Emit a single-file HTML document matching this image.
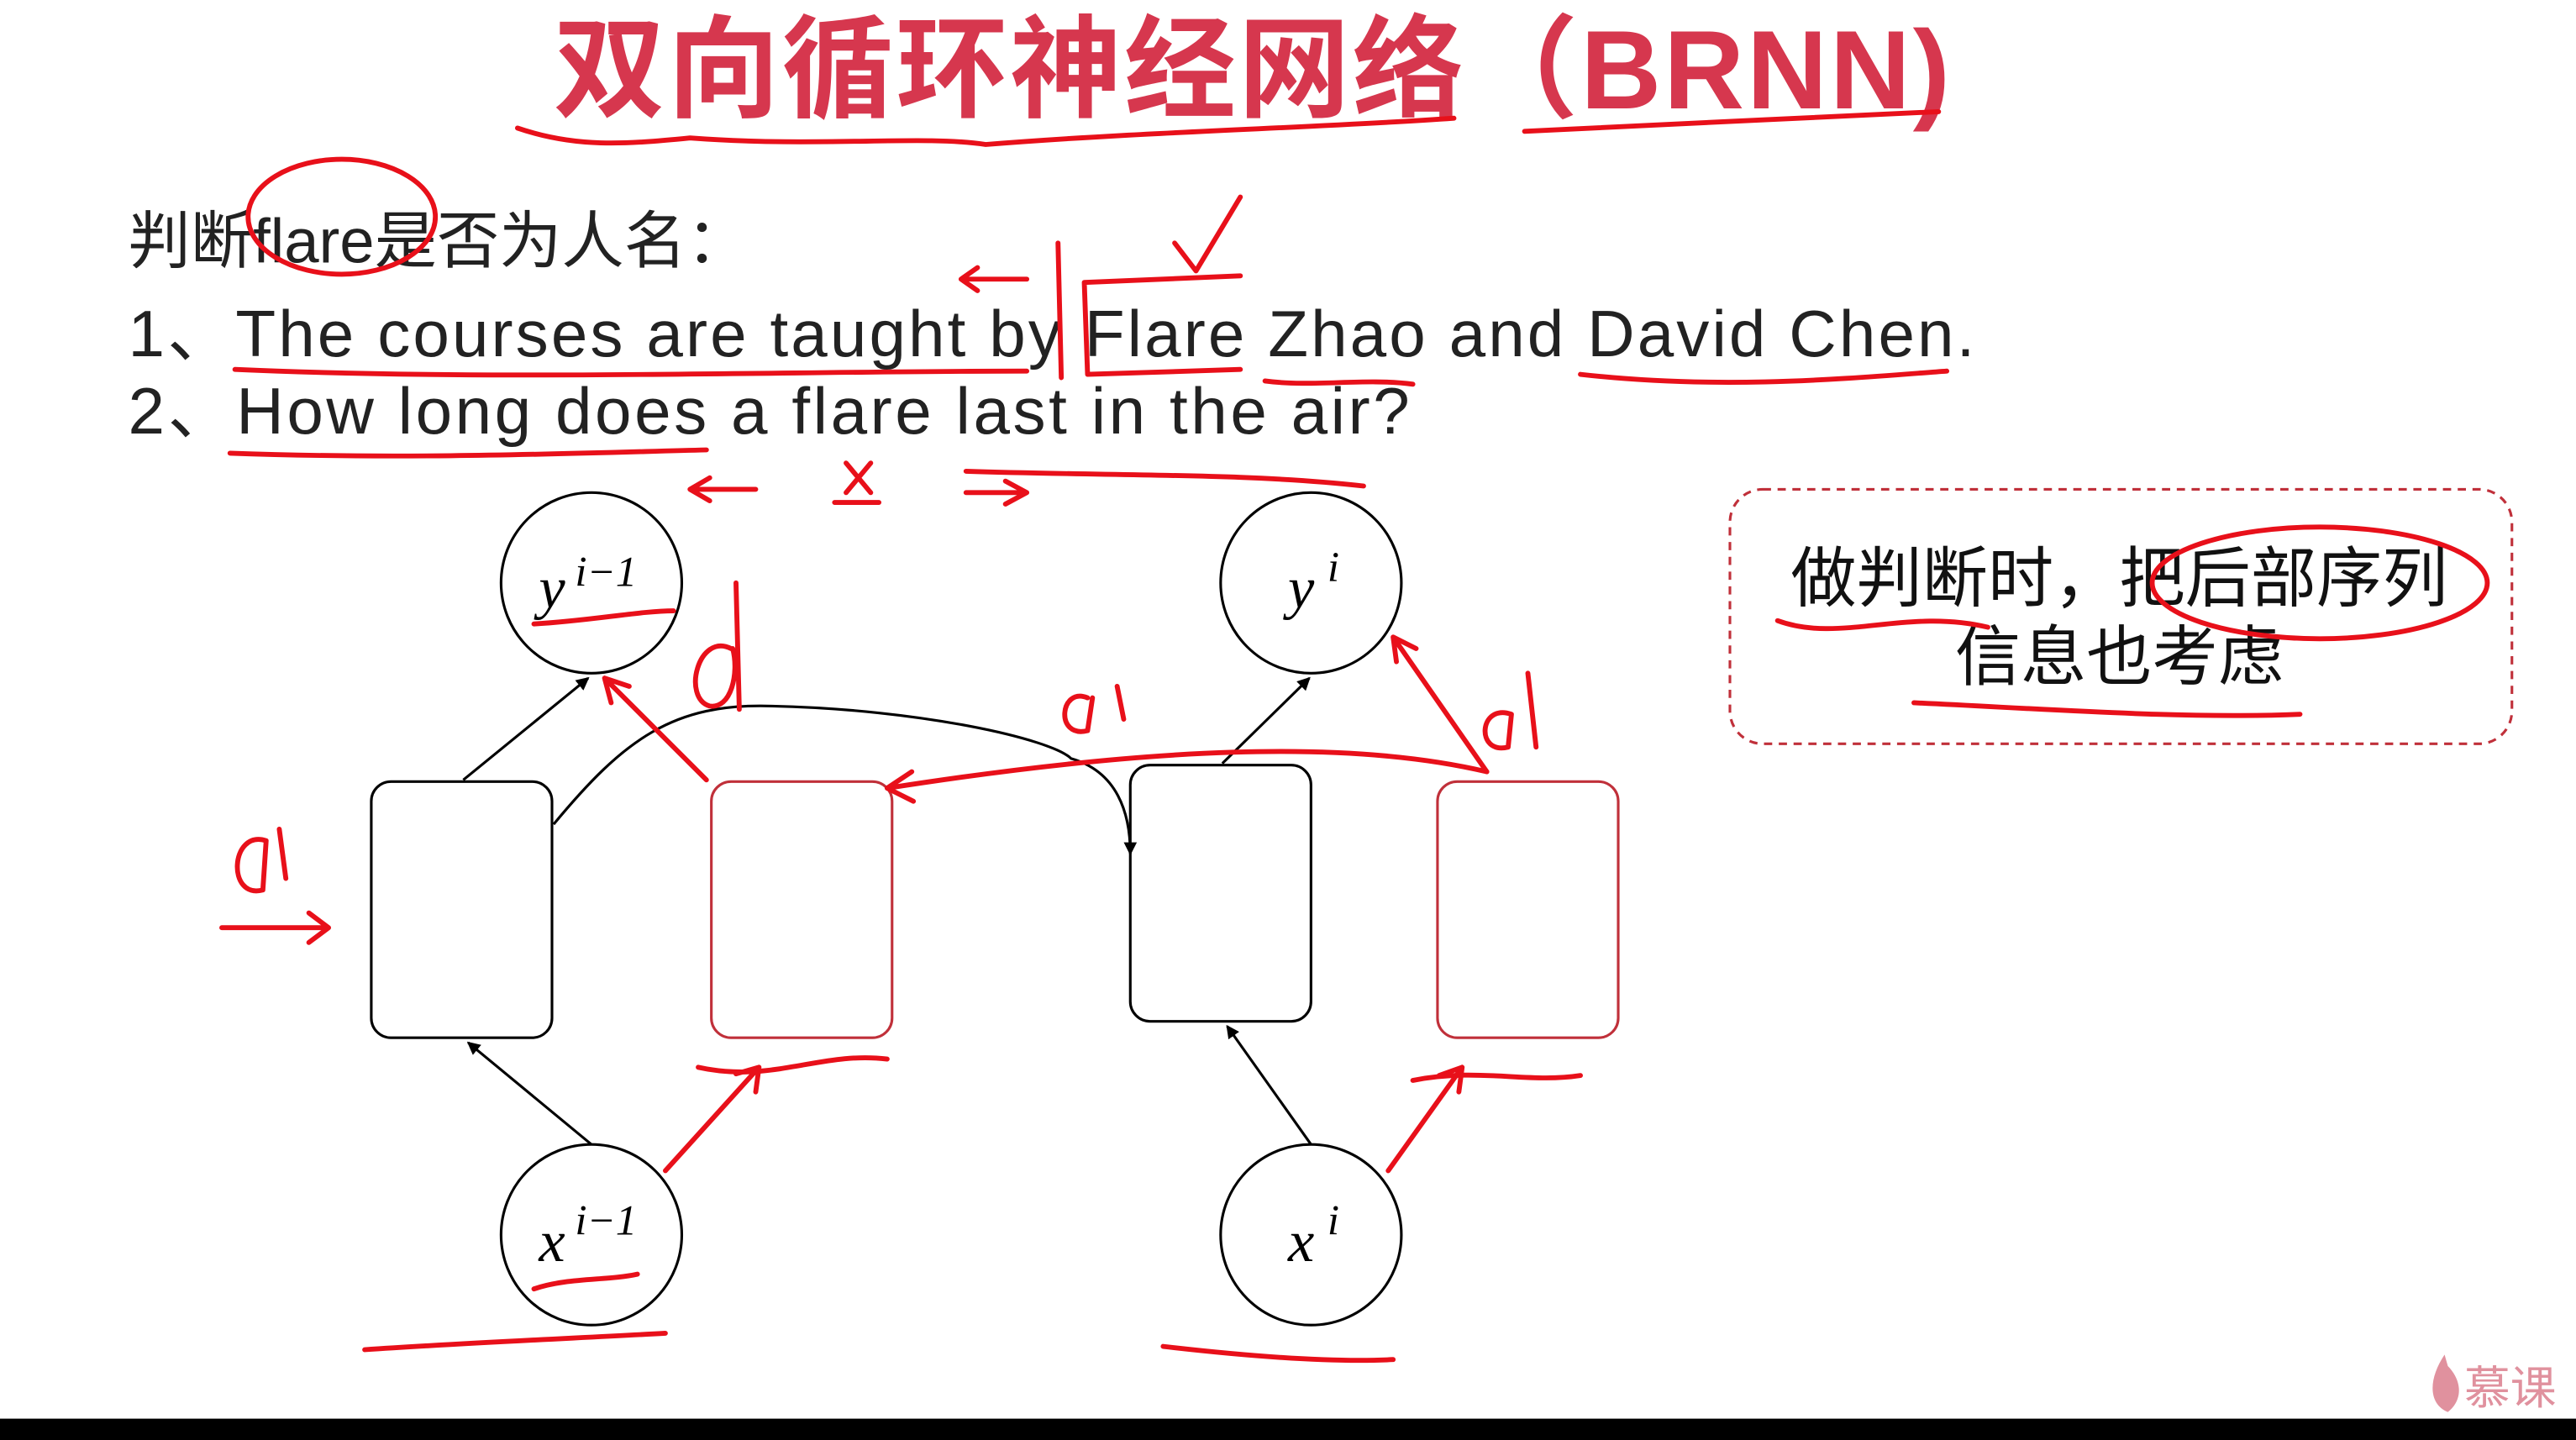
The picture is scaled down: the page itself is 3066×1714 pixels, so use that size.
<!DOCTYPE html>
<html><head><meta charset="utf-8"><style>
html,body{margin:0;padding:0;background:#fff;width:3066px;height:1714px;overflow:hidden}
svg{display:block}
text{font-family:"Liberation Sans","Noto Sans CJK SC",sans-serif}
.m{font-family:"Liberation Serif","DejaVu Serif",serif;font-style:italic}
.r{fill:none;stroke:#e8101a;stroke-width:3;stroke-linecap:round;stroke-linejoin:round}
</style></head><body>
<svg width="3066" height="1714" viewBox="0 0 1568 877" preserveAspectRatio="none" xmlns="http://www.w3.org/2000/svg">
<defs><marker id="a" markerWidth="8" markerHeight="8" refX="7" refY="4" orient="auto" markerUnits="userSpaceOnUse" viewBox="0 0 8 8"><path d="M0,0 L8,4 L0,8 z" fill="#000"/></marker></defs>
<rect width="1568" height="877" fill="#fff"/>
<text x="762" y="66" text-anchor="middle" font-size="68" font-weight="bold" fill="#d6374e" textLength="850">双向循环神经网络（BRNN)</text>
<text x="78" y="160" font-size="38" fill="#222">判断flare是否为人名：</text>
<text x="78" y="217" font-size="40" fill="#222" textLength="1124">1、The courses are taught by Flare Zhao and David Chen.</text>
<text x="78" y="264" font-size="40" fill="#222" textLength="780">2、How long does a flare last in the air?</text>
<g fill="#fff" stroke="#000" stroke-width="1.6">
<circle cx="360" cy="355" r="55"/><circle cx="798" cy="355" r="55"/>
<circle cx="360" cy="752" r="55"/><circle cx="798" cy="752" r="55"/>
<rect x="226" y="476" width="110" height="156" rx="12"/>
<rect x="688" y="466" width="110" height="156" rx="12"/>
</g>
<g fill="#fff" stroke="#c0303a" stroke-width="1.6">
<rect x="433" y="476" width="110" height="156" rx="12"/>
<rect x="875" y="476" width="110" height="156" rx="12"/>
</g>
<g stroke="#000" stroke-width="1.6" fill="none" marker-end="url(#a)">
<line x1="360" y1="697" x2="285" y2="635"/>
<line x1="798" y1="697" x2="747" y2="625"/>
<line x1="282" y1="475" x2="358" y2="413"/>
<line x1="744" y1="465" x2="797" y2="413"/>
<path d="M337,502 C380,450 410,428 470,430 C560,432 640,450 652,462 C680,470 688,495 688,520"/>
</g>
<g font-size="36" class="m" fill="#000">
<text x="328" y="370" class="m">y</text><text x="350" y="357" font-size="26" class="m">i−1</text>
<text x="784" y="370" class="m">y</text><text x="808" y="354" font-size="26" class="m">i</text>
<text x="328" y="768" class="m">x</text><text x="350" y="752" font-size="26" class="m">i−1</text>
<text x="784" y="768" class="m">x</text><text x="808" y="752" font-size="26" class="m">i</text>
</g>
<rect x="1053" y="298" width="476" height="155" rx="20" fill="none" stroke="#c0303a" stroke-width="1.6" stroke-dasharray="5,4"/>
<text x="1290" y="366" text-anchor="middle" font-size="40" fill="#111">做判断时，把后部序列</text>
<text x="1290" y="414" text-anchor="middle" font-size="40" fill="#111">信息也考虑</text>
<g class="r">
<path d="M315,78 C350,90 380,88 420,84 C500,90 560,82 600,88 C700,80 800,78 885,72"/>
<path d="M928,80 C1000,76 1100,72 1180,68"/>
<ellipse cx="208" cy="132" rx="57" ry="35"/>
<path d="M143,225 C300,232 480,226 625,226"/>
<path d="M660,172 L755,168 M660,172 L662,228 L755,225"/>
<path d="M770,232 C800,236 830,230 860,234"/>
<path d="M962,228 C1050,238 1130,230 1185,226"/>
<path d="M140,276 C250,280 350,276 430,274"/>
<path d="M715,148 L728,165 L755,120"/>
<path d="M585,170 L625,170 M585,170 L595,163 M585,170 L595,177"/>
<path d="M644,148 L646,230"/>
<path d="M420,298 L460,298 M420,298 L432,291 M420,298 L432,305"/>
<path d="M515,282 L530,300 M530,282 L515,300 M508,306 L535,306"/>
<path d="M588,287 C680,290 760,288 830,296 M588,300 L625,300 M625,300 L612,293 M625,300 L612,307"/>
<path d="M325,380 C360,378 390,372 410,372"/>
<path d="M445,395 C425,385 415,425 432,430 C445,432 450,410 446,395 M448,355 L450,432"/>
<path d="M430,475 L368,413 M368,413 L372,428 M368,413 L383,418"/>
<path d="M905,470 C820,450 700,455 540,480 M540,480 L555,470 M540,480 L556,488"/>
<path d="M905,470 L848,388 M848,388 L850,403 M848,388 L862,395"/>
<path d="M662,425 C645,418 642,450 662,445 L665,425 M680,418 L684,438"/>
<path d="M920,435 C900,428 898,460 918,455 L920,435 M930,410 L935,455"/>
<path d="M162,512 C140,505 138,548 160,542 L162,512 M170,505 L174,535"/>
<path d="M135,565 L200,565 M200,565 L188,556 M200,565 L188,574"/>
<path d="M405,713 L462,650 M462,650 L448,654 M462,650 L460,665"/>
<path d="M425,650 C470,660 500,640 540,645"/>
<path d="M845,713 L890,650 M890,650 L876,655 M890,650 L888,665"/>
<path d="M860,658 C900,650 930,660 962,655"/>
<path d="M325,785 C345,778 370,780 388,776"/>
<path d="M222,822 C280,818 350,815 405,812"/>
<path d="M708,820 C760,826 810,830 848,828"/>
<ellipse cx="1412" cy="355" rx="102" ry="34"/>
<path d="M1082,378 C1120,392 1160,370 1210,382"/>
<path d="M1165,428 C1250,432 1330,438 1400,435"/>
</g>
<text x="1500" y="855" font-size="28" fill="#e0919e">慕课</text>
<path d="M1488,825 C1478,840 1478,855 1490,860 C1500,852 1498,840 1490,832 Z" fill="#e0919e"/>
<rect x="0" y="864" width="1568" height="13" fill="#000"/>
</svg>
</body></html>
